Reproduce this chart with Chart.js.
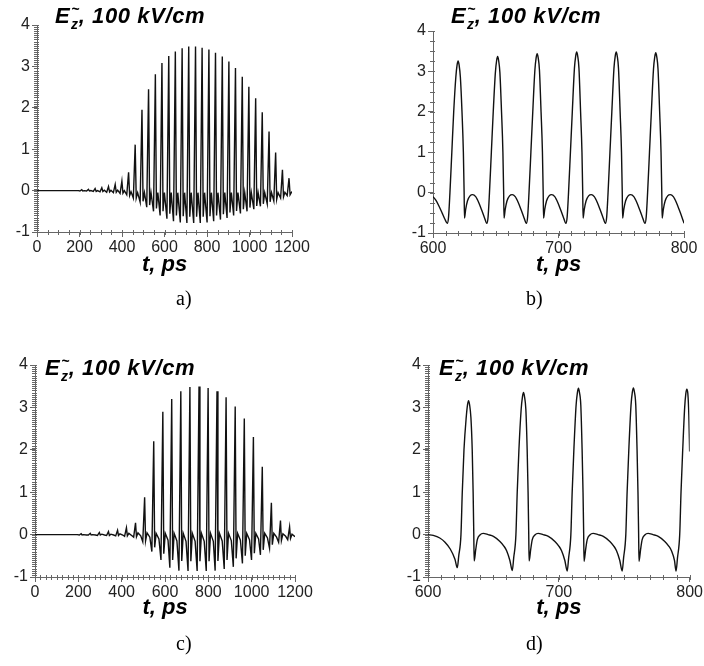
<!DOCTYPE html>
<html>
<head>
<meta charset="utf-8">
<script src="https://cdn.jsdelivr.net/npm/chart.js@4.4.1/dist/chart.umd.min.js"></script>
<style>
body{margin:0;background:#fff;width:704px;height:666px;position:relative;overflow:hidden}
canvas{position:absolute}
.ttl{position:absolute;font:italic bold 22px "Liberation Sans",Arial,sans-serif;letter-spacing:0.6px;line-height:24px;color:#000;white-space:nowrap}
.ttl .tl{position:relative;top:-9px;font-size:14px;margin-left:1px}
.ttl .sb{position:relative;top:6px;font-size:14px;margin-left:-9px}
.lbl{position:absolute;font:20px "Liberation Serif","Times New Roman",serif;color:#000;line-height:22px}
</style>
</head>
<body>
<canvas id="cA" width="352" height="333" style="left:0;top:0"></canvas>
<canvas id="cB" width="352" height="333" style="left:352px;top:0"></canvas>
<canvas id="cC" width="352" height="333" style="left:0;top:333px"></canvas>
<canvas id="cD" width="352" height="333" style="left:352px;top:333px"></canvas>

<div class="ttl" style="left:55px;top:4px">E<span class="tl">~</span><span class="sb">z</span>, 100 kV/cm</div>
<div class="ttl" style="left:451px;top:4px">E<span class="tl">~</span><span class="sb">z</span>, 100 kV/cm</div>
<div class="ttl" style="left:45px;top:356px">E<span class="tl">~</span><span class="sb">z</span>, 100 kV/cm</div>
<div class="ttl" style="left:439px;top:356px">E<span class="tl">~</span><span class="sb">z</span>, 100 kV/cm</div>

<div class="lbl" style="left:176px;top:287px">a)</div>
<div class="lbl" style="left:526px;top:287px">b)</div>
<div class="lbl" style="left:176px;top:632px">c)</div>
<div class="lbl" style="left:526px;top:632px">d)</div>

<script>
// panel a) : 0..1200 ps
const tA = [0, 195,
  201.9, 210.5, 215.5, 222.1,   233.4, 242, 247, 253.6,   264.9, 273.5, 278.5, 285.1,
  296.4, 305, 310, 316.6,       327.9, 336.5, 341.5, 348.1, 359.4, 368, 373, 379.6,
  390.9, 399.5, 404.5, 411.1,   422.4, 431, 436, 442.6,   453.4, 462, 467, 473.6,
  485.4, 494, 499, 505.6,       516.4, 525, 530, 536.6,   548.4, 557, 562, 568.6,
  579.4, 588, 593, 599.6,       611.4, 620, 625, 631.6,   642.4, 651, 656, 662.6,
  674.4, 683, 688, 694.6,       705.4, 714, 719, 725.6,   737.4, 746, 751, 757.6,
  768.4, 777, 782, 788.6,       800.4, 809, 814, 820.6,   831.4, 840, 845, 851.6,
  863.4, 872, 877, 883.6,       894.4, 903, 908, 914.6,   925.4, 934, 939, 945.6,
  957.4, 966, 971, 977.6,       988.4, 997, 1002, 1008.6, 1020.4, 1029, 1034, 1040.6,
  1051.4, 1060, 1065, 1071.6,   1083.4, 1092, 1097, 1103.6, 1114.4, 1123, 1128, 1134.6,
  1146.4, 1155, 1160, 1166.6,   1177.4, 1186, 1191, 1197.6, 1200];
const eA = [0, 0,
  -0.01, 0.02, -0.01, 0.0,    -0.01, 0.03, -0.01, 0.0,    -0.02, 0.05, -0.02, 0.0,
  -0.03, 0.07, -0.02, 0.01,   -0.04, 0.10, -0.03, 0.01,   -0.05, 0.15, -0.04, 0.01,
  -0.07, 0.23, -0.06, 0.0,    -0.10, 0.44, -0.12, -0.03,  -0.18, 1.11, -0.18, -0.05,
  -0.28, 1.95, -0.26, -0.05,  -0.40, 2.45, -0.35, -0.05,  -0.50, 2.81, -0.43, -0.05,
  -0.60, 3.08, -0.50, -0.05,  -0.68, 3.25, -0.56, -0.05,  -0.74, 3.36, -0.60, -0.05,
  -0.77, 3.44, -0.62, -0.05,  -0.78, 3.48, -0.63, -0.05,  -0.78, 3.48, -0.63, -0.05,
  -0.78, 3.45, -0.63, -0.05,  -0.77, 3.41, -0.62, -0.05,  -0.74, 3.33, -0.60, -0.05,
  -0.70, 3.24, -0.57, -0.05,  -0.66, 3.12, -0.53, -0.05,  -0.60, 2.96, -0.49, -0.05,
  -0.55, 2.75, -0.45, -0.05,  -0.50, 2.51, -0.41, -0.05,  -0.45, 2.23, -0.37, -0.05,
  -0.38, 1.89, -0.32, -0.05,  -0.32, 1.43, -0.27, -0.05,  -0.25, 0.92, -0.21, -0.05,
  -0.18, 0.50, -0.15, -0.04,  -0.12, 0.30, -0.10, -0.04, -0.06];

// panel b) : 600..800 ps zoom of a)
const tB = [600, 602.5, 605, 607.5, 609.5, 611.4,
  612.4, 613.5, 615, 616.5, 618.2, 619.2, 620, 620.8, 621.8, 623.1, 624.2, 624.8, 625.1, 626, 627.5, 629.5, 631.6, 634, 636.5, 639, 641, 642.9,
  643.9, 645, 646.5, 648, 649.7, 650.7, 651.5, 652.3, 653.3, 654.6, 655.7, 656.3, 656.6, 657.5, 659, 661, 663.1, 665.5, 668, 670.5, 672.5, 674.4,
  675.4, 676.5, 678, 679.5, 681.2, 682.2, 683, 683.8, 684.8, 686.1, 687.2, 687.8, 688.1, 689, 690.5, 692.5, 694.6, 697, 699.5, 702, 704, 705.9,
  706.9, 708, 709.5, 711, 712.7, 713.7, 714.5, 715.3, 716.3, 717.6, 718.7, 719.3, 719.6, 720.5, 722, 724, 726.1, 728.5, 731, 733.5, 735.5, 737.4,
  738.4, 739.5, 741, 742.5, 744.2, 745.2, 746, 746.8, 747.8, 749.1, 750.2, 750.8, 751.1, 752, 753.5, 755.5, 757.6, 760, 762.5, 765, 767, 768.9,
  769.9, 771, 772.5, 774, 775.7, 776.7, 777.5, 778.3, 779.3, 780.6, 781.7, 782.3, 782.6, 783.5, 785, 787, 789.1, 791.5, 794, 796.5, 798.5, 800];
const eB = [-0.10, -0.20, -0.35, -0.52, -0.66, -0.76,
  -0.60, 0, 1.0, 2.0, 2.86, 3.16, 3.26, 3.16, 2.86, 2.0, 1.0, 0, -0.63, -0.42, -0.20, -0.08, -0.05, -0.10, -0.25, -0.45, -0.62, -0.76,
  -0.60, 0, 1.0, 2.0, 2.97, 3.27, 3.37, 3.27, 2.97, 2.0, 1.0, 0, -0.63, -0.42, -0.20, -0.08, -0.05, -0.10, -0.25, -0.45, -0.62, -0.76,
  -0.60, 0, 1.0, 2.0, 3.04, 3.34, 3.44, 3.34, 3.04, 2.0, 1.0, 0, -0.63, -0.42, -0.20, -0.08, -0.05, -0.10, -0.25, -0.45, -0.62, -0.76,
  -0.60, 0, 1.0, 2.0, 3.08, 3.38, 3.48, 3.38, 3.08, 2.0, 1.0, 0, -0.63, -0.42, -0.20, -0.08, -0.05, -0.10, -0.25, -0.45, -0.62, -0.76,
  -0.60, 0, 1.0, 2.0, 3.08, 3.38, 3.48, 3.38, 3.08, 2.0, 1.0, 0, -0.63, -0.42, -0.20, -0.08, -0.05, -0.10, -0.25, -0.45, -0.62, -0.76,
  -0.60, 0, 1.0, 2.0, 3.06, 3.36, 3.46, 3.36, 3.06, 2.0, 1.0, 0, -0.63, -0.42, -0.20, -0.08, -0.05, -0.10, -0.25, -0.45, -0.62, -0.76];

// panel c) : 0..1200 ps
const tC = [0, 195,
  204.4, 213, 217.3, 224.2, 237,     246.4, 255, 259.3, 266.2, 279,     288.4, 297, 301.3, 308.2, 321,
  330.4, 339, 343.3, 350.2, 363,     372.4, 381, 385.3, 392.2, 405,     413.4, 422, 426.3, 433.2, 446,
  455.4, 464, 468.3, 475.2, 488,     497.4, 506, 510.3, 517.2, 530,     539.4, 548, 552.3, 559.2, 572,
  581.4, 590, 594.3, 601.2, 614,     622.4, 631, 635.3, 642.2, 655,     664.4, 673, 677.3, 684.2, 697,
  706.4, 715, 719.3, 726.2, 739,     748.4, 757, 761.3, 768.2, 781,     790.4, 799, 803.3, 810.2, 823,
  831.4, 840, 844.3, 851.2, 864,     873.4, 882, 886.3, 893.2, 906,     915.4, 924, 928.3, 935.2, 948,
  957.4, 966, 970.3, 977.2, 990,     999.4, 1008, 1012.3, 1019.2, 1032, 1040.4, 1049, 1053.3, 1060.2, 1073,
  1082.4, 1091, 1095.3, 1102.2, 1115, 1124.4, 1133, 1137.3, 1144.2, 1157, 1166.4, 1175, 1179.3, 1186.2, 1200];
const eC = [0, 0,
  -0.01, 0.02, -0.01, 0.0, -0.01,    -0.01, 0.03, -0.01, 0.0, -0.01,    -0.02, 0.05, -0.01, 0.01, -0.01,
  -0.02, 0.07, -0.02, 0.01, -0.01,   -0.03, 0.10, -0.02, 0.02, -0.01,   -0.04, 0.16, -0.03, 0.03, -0.02,
  -0.06, 0.28, -0.05, 0.04, -0.03,   -0.17, 0.88, -0.15, 0.04, -0.06,   -0.40, 2.20, -0.30, 0.03, -0.10,
  -0.60, 2.90, -0.45, 0.03, -0.13,   -0.78, 3.20, -0.60, 0.03, -0.15,   -0.85, 3.38, -0.62, 0.03, -0.16,
  -0.86, 3.48, -0.63, 0.03, -0.16,   -0.86, 3.49, -0.63, 0.03, -0.16,   -0.86, 3.46, -0.63, 0.03, -0.16,
  -0.85, 3.38, -0.62, 0.03, -0.15,   -0.81, 3.24, -0.60, 0.03, -0.14,   -0.76, 3.02, -0.56, 0.03, -0.13,
  -0.68, 2.74, -0.50, 0.03, -0.12,   -0.60, 2.30, -0.44, 0.03, -0.10,   -0.48, 1.60, -0.36, 0.03, -0.08,
  -0.32, 0.75, -0.24, 0.03, -0.06,   -0.18, 0.33, -0.14, 0.02, -0.04,   -0.12, 0.18, -0.09, 0.01, -0.05];

// panel d) : 600..800 ps zoom of c)
const tD = [600, 604, 609, 613, 617, 620.6, 622.4,
  623.5, 625.2, 626.2, 627.5, 629.2, 630.2, 631, 631.8, 632.8, 633.8, 634.5, 635, 635.3, 636.5, 637.7, 639.7, 642.2, 646, 650, 655, 658, 660.1, 662.6, 664.4,
  665.5, 667.2, 668.2, 669.5, 671.2, 672.2, 673, 673.8, 674.8, 675.8, 676.5, 677, 677.3, 678.5, 679.7, 681.7, 684.2, 688, 692, 697, 700, 702.1, 704.6, 706.4,
  707.5, 709.2, 710.2, 711.5, 713.2, 714.2, 715, 715.8, 716.8, 717.8, 718.5, 719, 719.3, 720.5, 721.7, 723.7, 726.2, 730, 734, 739, 742, 744.1, 746.6, 748.4,
  749.5, 751.2, 752.2, 753.5, 755.2, 756.2, 757, 757.8, 758.8, 759.8, 760.5, 761, 761.3, 762.5, 763.7, 765.7, 768.2, 772, 776, 781, 784, 786.1, 788.4, 789.6,
  790.7, 792.4, 793.4, 794.7, 796.2, 797.1, 797.8, 798.6, 799.4, 800];
const eD = [0.0, -0.02, -0.08, -0.18, -0.34, -0.58, -0.78,
  -0.50, 0, 1.0, 2.0, 2.76, 3.06, 3.16, 3.06, 2.76, 2.0, 1.0, 0, -0.62, -0.35, -0.12, -0.01, 0.03, 0.0, -0.04, -0.16, -0.27, -0.38, -0.61, -0.85,
  -0.55, 0, 1.0, 2.0, 2.95, 3.25, 3.35, 3.25, 2.95, 2.0, 1.0, 0, -0.62, -0.35, -0.12, -0.01, 0.03, 0.0, -0.04, -0.16, -0.27, -0.38, -0.61, -0.86,
  -0.55, 0, 1.0, 2.0, 3.05, 3.35, 3.45, 3.35, 3.05, 2.0, 1.0, 0, -0.63, -0.35, -0.12, -0.01, 0.03, 0.0, -0.04, -0.16, -0.27, -0.38, -0.61, -0.86,
  -0.55, 0, 1.0, 2.0, 3.06, 3.36, 3.46, 3.36, 3.06, 2.0, 1.0, 0, -0.63, -0.35, -0.12, -0.01, 0.03, 0.0, -0.04, -0.16, -0.27, -0.38, -0.61, -0.86,
  -0.55, 0, 1.0, 2.0, 3.0, 3.33, 3.43, 3.33, 2.8, 1.96];

const yTicks = [-1, 0, 1, 2, 3, 4];

// small ticks between the labelled ones
const minorTicks = {
  id: 'minorTicks',
  afterDraw(chart, args, opts) {
    const {ctx, chartArea: ca, scales: {x, y}} = chart;
    ctx.save();
    ctx.strokeStyle = '#666';
    ctx.lineWidth = 1;
    ctx.beginPath();
    for (let v = x.min; v <= x.max + 1e-6; v += opts.xStep) {
      const px = Math.round(x.getPixelForValue(v)) + 0.5;
      ctx.moveTo(px, ca.bottom - 2);
      ctx.lineTo(px, ca.bottom + 3);
    }
    for (let v = y.min; v <= y.max + 1e-6; v += opts.yStep) {
      const py = Math.round(y.getPixelForValue(v)) + 0.5;
      ctx.moveTo(ca.left - 3, py);
      ctx.lineTo(ca.left + 2, py);
    }
    ctx.stroke();
    ctx.restore();
  }
};

const tickFont = {family: '"Liberation Sans", Arial, sans-serif', size: 16};

function panel(id, t, e, c) {
  const pts = t.map((v, i) => ({x: v, y: e[i]}));
  new Chart(document.getElementById(id), {
    type: 'line',
    data: {
      datasets: [{
        data: pts,
        borderColor: '#111',
        borderWidth: 1.4,
        pointRadius: 0,
        fill: false,
        tension: 0,
        cubicInterpolationMode: c.smooth ? 'monotone' : 'default'
      }]
    },
    options: {
      responsive: false,
      animation: false,
      events: [],
      layout: {
        autoPadding: false,
        padding: {left: c.left - 34, top: c.top, right: 352 - c.right, bottom: 333 - c.bottom - c.xh}
      },
      plugins: {
        legend: {display: false},
        tooltip: {enabled: false},
        minorTicks: {xStep: c.xMinor, yStep: c.yMinor}
      },
      scales: {
        x: {
          type: 'linear',
          min: c.xMin,
          max: c.xMax,
          ticks: {stepSize: c.xStep, color: '#222', font: tickFont, padding: 1, maxRotation: 0, autoSkip: false,
                  callback: v => String(v)},
          grid: {drawOnChartArea: false, tickLength: 5, color: '#666'},
          border: {color: '#666'},
          title: {
            display: true,
            text: 't, ps',
            color: '#000',
            padding: 0,
            font: {family: '"Liberation Sans", Arial, sans-serif', size: 22, weight: 'bold', style: 'italic'}
          },
          afterFit(s) { s.height = c.xh; }
        },
        y: {
          min: -1,
          max: 4,
          afterBuildTicks(s) { s.ticks = yTicks.map(v => ({value: v})); },
          ticks: {color: '#222', font: tickFont, padding: 2, callback: v => String(v)},
          grid: {drawOnChartArea: false, tickLength: 5, color: '#666'},
          border: {color: '#666'},
          afterFit(s) { s.width = 34; }
        }
      }
    },
    plugins: [minorTicks]
  });
}

panel('cA', tA, eA, {left: 37, right: 292, top: 25, bottom: 232, xh: 46, xMin: 0, xMax: 1200, xStep: 200, xMinor: 50, yMinor: 0.05});
panel('cB', tB, eB, {left: 81, right: 332, top: 31, bottom: 233, xh: 45, xMin: 600, xMax: 800, xStep: 100, xMinor: 10, yMinor: 0.25, smooth: true});
panel('cC', tC, eC, {left: 35, right: 295, top: 32, bottom: 244, xh: 44, xMin: 0, xMax: 1200, xStep: 200, xMinor: 25, yMinor: 0.05});
panel('cD', tD, eD, {left: 76, right: 339, top: 32, bottom: 244, xh: 44, xMin: 600, xMax: 800, xStep: 100, xMinor: 10, yMinor: 0.05, smooth: true});
</script>
</body>
</html>
